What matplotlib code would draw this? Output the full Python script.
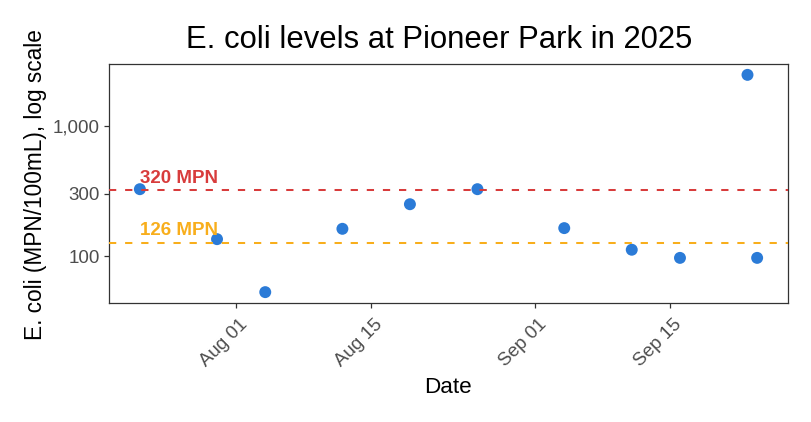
#!/usr/bin/env python3

import numpy as np
import pandas as pd
import matplotlib
matplotlib.use('Agg')
import matplotlib.pyplot as plt
import matplotlib.dates as mdates
import matplotlib.transforms as mtrans

# sample dates and readings (MPN/100mL)
dates = ['2025-07-22', '2025-07-30', '2025-08-04', '2025-08-12', '2025-08-19',
         '2025-08-26', '2025-09-04', '2025-09-11', '2025-09-16', '2025-09-23',
         '2025-09-24']
ecoli = [326, 135, 53, 162, 250, 326, 164, 112, 97, 2450, 97]

thresholds = [320, 126]
threshold_labels = ['320 MPN', '126 MPN']
threshold_colors = ['#d83c3c', '#f8ae1c']

x_ticks = ['2025-08-01', '2025-08-15', '2025-09-01', '2025-09-15']
y_ticks = [100, 300, 1000]
y_tick_labels = ['100', '300', '1,000']

df = pd.DataFrame({'date': pd.to_datetime(dates), 'ecoli': ecoli})

plt.rcParams['font.family'] = ['Liberation Sans', 'DejaVu Sans']

W, H = 812, 422
f = plt.figure(figsize=(W / 100, H / 100), dpi=100)
ax = f.add_axes([109 / W, (H - 303) / H, (788 - 109) / W, (303 - 64) / H])

ax.scatter(df.date, df.ecoli, s=74, color='#2b7bd7', edgecolors='none', zorder=2)
ax.set_yscale('log')
ax.margins(x=0.05, y=0.05)

for val, lab, col in zip(thresholds, threshold_labels, threshold_colors):
    ax.axhline(val, color=col, lw=1.45, linestyle=(0, (3.6, 4.4)), zorder=3)
    ax.annotate(lab, xy=(df.date.iloc[0], val), xytext=(0, 5.5),
                textcoords='offset points', ha='left', va='baseline',
                color=col, fontsize=13.5, fontweight='bold', zorder=4)

ax.set_yticks(y_ticks)
ax.set_yticklabels(y_tick_labels)
ax.yaxis.set_minor_locator(matplotlib.ticker.NullLocator())
ax.set_xticks(pd.to_datetime(x_ticks))
ax.xaxis.set_major_formatter(mdates.DateFormatter('%b %d'))

ax.tick_params(axis='both', length=3.3, width=0.9, color='#333333',
               labelcolor='#4d4d4d', labelsize=13.5, pad=3.2)
for s in ax.spines.values():
    s.set_color('#333333')
    s.set_linewidth(0.9)

offset = mtrans.ScaledTranslation(3 / 100, -4 / 100, f.dpi_scale_trans)
for lbl in ax.get_xticklabels():
    lbl.set_rotation(45)
    lbl.set_rotation_mode('anchor')
    lbl.set_ha('right')
    lbl.set_va('top')
    lbl.set_transform(lbl.get_transform() + offset)

f.text(439.5 / W, 1 - 47.7 / H, 'E. coli levels at Pioneer Park in 2025',
       ha='center', va='baseline', fontsize=22.3)
f.text(448 / W, 1 - 393.3 / H, 'Date', ha='center', va='baseline', fontsize=16.2)
f.text(42 / W, 1 - 185 / H, 'E. coli (MPN/100mL), log scale', ha='center',
       va='baseline', rotation=90, rotation_mode='anchor', fontsize=16.3)

f.savefig('out.png', dpi=100)
